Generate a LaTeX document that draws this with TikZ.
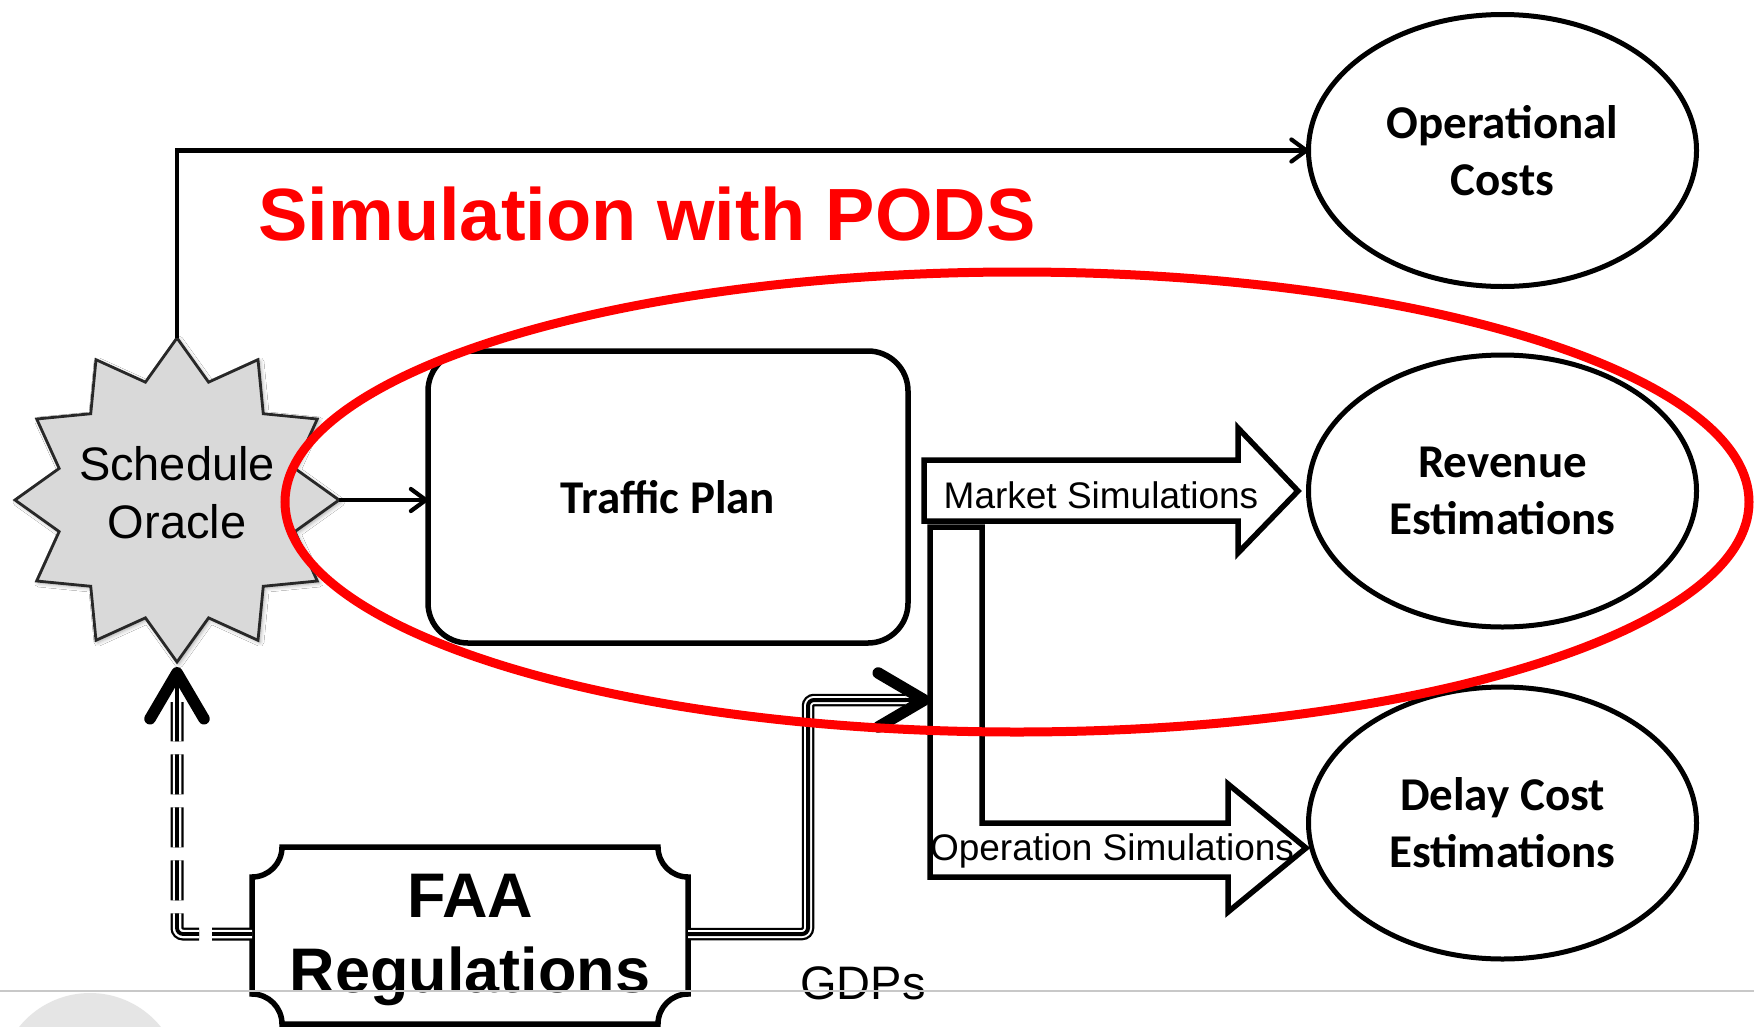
\documentclass[tikz,border=0pt]{standalone}
\usepackage{fontspec}
\setmainfont{Liberation Sans}
\newfontfamily\calfont{Carlito}
\usetikzlibrary{shapes.geometric,arrows.meta,shadows.blur,calc}

\definecolor{starfill}{RGB}{217,217,217}
\definecolor{starline}{RGB}{40,40,40}
\definecolor{podsred}{RGB}{255,0,0}
\definecolor{rulegray}{RGB}{200,200,200}
\definecolor{dotgray}{RGB}{229,229,229}

\begin{document}
\begin{tikzpicture}[x=1pt,y=-1pt,
  every node/.style={inner sep=0pt, outer sep=0pt},
  estim/.style={ellipse, draw, line width=5pt, minimum width=388pt, minimum height=272pt,
    align=center, font=\calfont\bfseries\fontsize{47}{57}\selectfont},
  tpbox/.style={rectangle, draw, rounded corners=40pt, line width=5.5pt,
    minimum width=480pt, minimum height=292pt, font=\calfont\bfseries\fontsize{47}{57}\selectfont},
  conn/.style={line width=4.2pt, -{Straight Barb[length=15pt,width=22pt,round]}},
  blockarrow/.style={draw, line width=5.5pt, line join=miter},
  simlabel/.style={font=\fontsize{37}{44}\selectfont},
  triple/.style={line width=4pt, rounded corners=6pt,
    preaction={draw, line width=12.5pt},
    preaction={draw=white, line width=8pt}},
  dashtriple/.style={line width=3.8pt, rounded corners=6pt, dash pattern=on 40pt off 13pt,
    preaction={draw, line width=13pt, dash pattern=on 40pt off 13pt},
    preaction={draw=white, line width=8.5pt, dash pattern=on 40pt off 13pt}},
  bigchev/.style={line width=3.8pt, -{Straight Barb[length=46pt,width=54pt,line width=11.5pt,round]}},
  faaline/.style={draw, line width=5.5pt, fill=white}
]
\clip (0,0) rectangle (1754,1026);
\fill[white] (0,0) rectangle (1754,1026);

% faint round badge at the lower left edge
\fill[dotgray] (90,1084) circle[radius=91];

% twelve-pointed star behind the oracle
\draw[starline, fill=starfill, line width=2.8pt, line join=miter,
  blur shadow={shadow xshift=2pt, shadow yshift=-2pt, shadow blur radius=4pt, shadow opacity=35},
  shift={(177,500)}]
  plot[samples at={0,15,...,345}] (\x:{ifthenelse(mod(\x,30)==0,162,122)}) -- cycle;
\node[circle, minimum size=324pt, align=center, font=\fontsize{47}{58}\selectfont] (oracle) at (177,500)
  {Schedule\\Oracle\rule[-15pt]{0pt}{15pt}};

% traffic plan
\node[tpbox] (tp) at (668,497) {Traffic Plan};

% estimations
\node[estim] (opcost) at (1502.5,150.5) {Operational\\Costs};
\node[estim] (revenue) at (1502.5,491) {Revenue\\Estimations};
\node[estim] (delay) at (1502.5,823) {Delay Cost\\Estimations};

% title
\node[anchor=base, text=podsred, font=\bfseries\fontsize{74}{80}\selectfont] (podstitle) at (647,240) {Simulation with PODS};

% simulation block arrows
\draw[blockarrow] (924,460) -- (1238,460) -- (1238,428) -- (1298,491) -- (1238,553) -- (1238,521) -- (924,521) -- cycle;
\node[simlabel, anchor=base] (mkt) at (1101,508) {Market Simulations};
\draw[blockarrow] (930,527) -- (982,527) -- (982,823) -- (1228,823) -- (1228,784) -- (1306,848) -- (1228,912) -- (1228,877) -- (930,877) -- cycle;
\node[simlabel, anchor=base] (ops) at (1112,860) {Operation Simulations};
\coordinate (opsin) at (930,700);

% plain connectors
\draw[conn] (oracle.north) |- (opcost.west);
\draw[conn] (oracle.east) -- (tp.west |- oracle.east);

% FAA regulations plaque
\draw[faaline] (282,847) -- (658,847) arc[start angle=180,end angle=90,radius=30]
  -- (688,994) arc[start angle=270,end angle=180,radius=30]
  -- (282,1024) arc[start angle=0,end angle=-90,radius=30]
  -- (252,877) arc[start angle=90,end angle=0,radius=30] -- cycle;
\node[align=center, minimum width=436pt, minimum height=177pt,
  font=\bfseries\fontsize{63}{75}\selectfont] (faa) at (470,934) {FAA\rule{0pt}{56pt}\\Regulations};

% regulation feeds
\draw[triple] (faa.east) -| (808,700) -- (905,700);
\draw[bigchev] (850,700) -- (opsin);
\draw[dashtriple] (faa.west) -| ([yshift=-40pt]oracle.south);
\draw[bigchev] ([yshift=-78pt]oracle.south) -- ([yshift=-5pt]oracle.south);
\node[anchor=base, font=\fontsize{47}{56}\selectfont] (gdps) at (863,999) {GDPs};

% PODS simulation scope
\node[ellipse, draw=podsred, line width=9pt, minimum width=1464pt, minimum height=460pt] (simgroup) at (1017,502) {};

% rule along the lower edge
\draw[rulegray, line width=1.3pt] (0,991) -- (1754,991);
\end{tikzpicture}
\end{document}
